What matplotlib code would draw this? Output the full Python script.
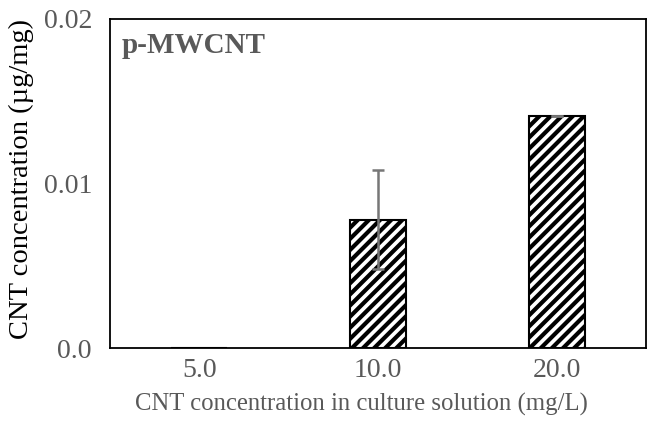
import matplotlib
matplotlib.use('Agg')
import matplotlib.pyplot as plt

categories = ['5.0', '10.0', '20.0']
values = [0.0, 0.0078, 0.0141]
errors = [0.0, 0.0030, 0.0]

plt.rcParams['font.family'] = ['Liberation Serif', 'DejaVu Serif']
plt.rcParams['hatch.linewidth'] = 3.0

fig = plt.figure(figsize=(6.49, 4.33), dpi=100)
ax = fig.add_axes([110/649, 1 - 348/433, 536/649, 329/433])

x = list(range(len(categories)))
ax.bar(x, values, width=0.315, color='white', edgecolor='black', linewidth=1.5,
       hatch='///', zorder=2)
ax.errorbar(x[1:], values[1:], yerr=errors[1:], fmt='none', ecolor='#777777',
            elinewidth=1.8, capsize=4, capthick=1.8, zorder=3)

ax.set_xlim(-0.5, 2.5)
ax.set_ylim(0, 0.02)
ax.set_xticks(x)
ax.set_xticklabels(categories)
ax.set_yticks([0, 0.01, 0.02])
ax.set_yticklabels(['0.0', '0.01', '0.02'])
ax.tick_params(length=0, labelsize=20, labelcolor='#595959')
ax.tick_params(axis='x', pad=7)
ax.tick_params(axis='y', pad=13)
for s in ax.spines.values():
    s.set_color('black')
    s.set_linewidth(1.3)

ax.set_xlabel('CNT concentration in culture solution (mg/L)', fontsize=17.8,
              color='#595959')
ax.xaxis.set_label_coords(0.47, -0.135)
ax.set_ylabel('CNT concentration (µg/mg)', fontsize=20.5, color='black')
ax.yaxis.set_label_coords(-0.142, 0.515)
ax.text(0.022, 0.96, 'p-MWCNT', transform=ax.transAxes, fontsize=21,
        fontweight='bold', color='#595959', va='top', ha='left')

fig.savefig('out.png', dpi=100)
